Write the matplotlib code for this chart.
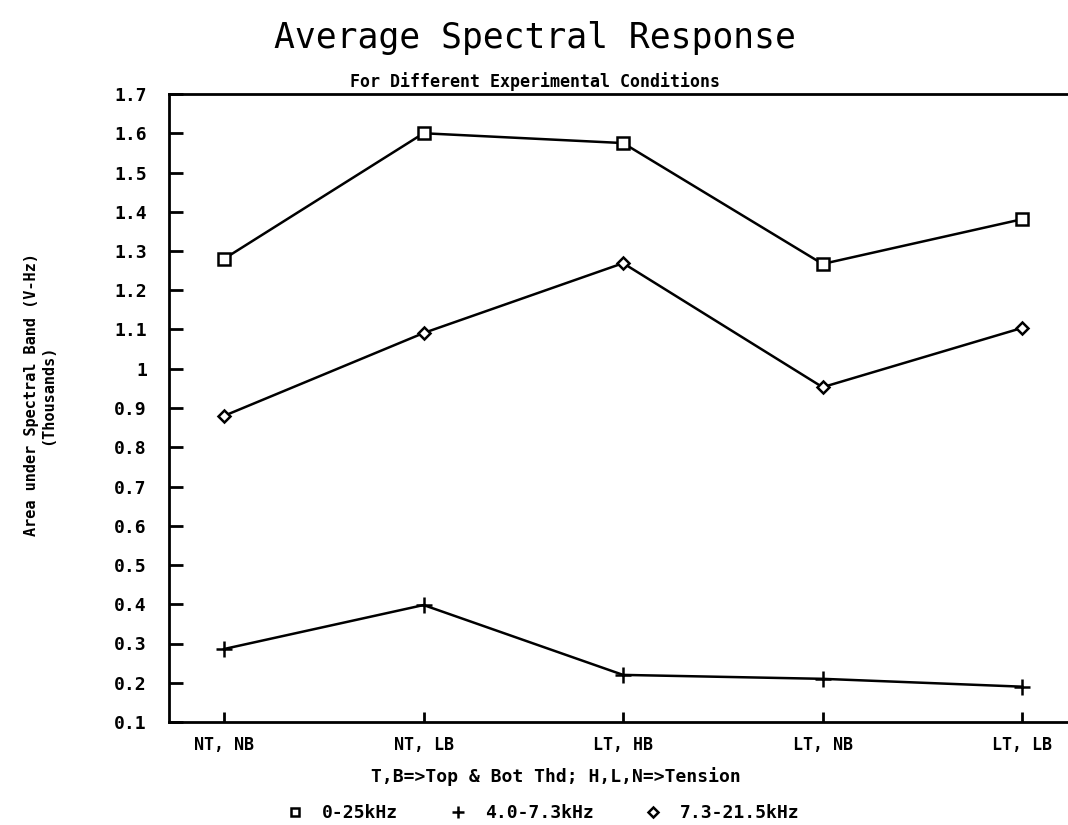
import matplotlib
matplotlib.use("Agg")
import matplotlib.pyplot as plt
from matplotlib.lines import Line2D

categories = ["NT, NB", "NT, LB", "LT, HB", "LT, NB", "LT, LB"]
series_names = ["0-25kHz", "4.0-7.3kHz", "7.3-21.5kHz"]
band_0_25 = [1.28, 1.60, 1.575, 1.267, 1.381]
band_4_73 = [0.286, 0.398, 0.22, 0.21, 0.19]
band_73_215 = [0.88, 1.091, 1.269, 0.953, 1.104]
yticks = [0.1, 0.2, 0.3, 0.4, 0.5, 0.6, 0.7, 0.8, 0.9, 1.0, 1.1, 1.2, 1.3, 1.4, 1.5, 1.6, 1.7]
ytick_labels = ["0.1", "0.2", "0.3", "0.4", "0.5", "0.6", "0.7", "0.8", "0.9", "1",
                "1.1", "1.2", "1.3", "1.4", "1.5", "1.6", "1.7"]

MONO = "DejaVu Sans Mono"
plt.rcParams["font.family"] = [MONO, "DejaVu Sans"]

W, H = 1068, 825
fig = plt.figure(figsize=(W / 100, H / 100), dpi=100)
ax = fig.add_axes([169 / W, 1 - 722 / H, 1 - 169 / W, (722 - 94) / H])

x = list(range(len(categories)))
styles = [
    dict(marker="s", markersize=8, markerfacecolor="white", markeredgewidth=1.8),
    dict(marker="+", markersize=11, markeredgewidth=1.8),
    dict(marker="D", markersize=6.5, markerfacecolor="white", markeredgewidth=1.8),
]
for vals, st in zip([band_0_25, band_4_73, band_73_215], styles):
    ax.plot(x, vals, color="black", linewidth=1.8, **st)

ax.set_xlim(-0.276, 4.23)
ax.set_ylim(0.1, 1.7)
ax.set_yticks(yticks)
ax.set_yticklabels(ytick_labels)
ax.set_xticks(x)
ax.set_xticklabels(categories)

for s in ["left", "bottom", "top"]:
    ax.spines[s].set_linewidth(2.0)
ax.spines["right"].set_visible(False)

ax.tick_params(axis="y", direction="in", length=10, width=2, pad=16, labelsize=13)
ax.tick_params(axis="x", direction="in", length=7, width=2, pad=10, labelsize=12)
for lbl in ax.get_yticklabels() + ax.get_xticklabels():
    lbl.set_fontweight("bold")

fig.text(535 / W, 1 - 38 / H, "Average Spectral Response", ha="center", va="center",
         fontsize=25, fontweight="normal")
fig.text(535 / W, 1 - 82 / H, "For Different Experimental Conditions", ha="center",
         va="center", fontsize=12, fontweight="bold")
fig.text(40 / W, 1 - 395 / H, "Area under Spectral Band (V-Hz)\n(Thousands)",
         ha="center", va="center", rotation=90, fontsize=11, fontweight="bold",
         multialignment="center", linespacing=1.1)
fig.text(556 / W, 1 - 777 / H, "T,B=>Top & Bot Thd; H,L,N=>Tension", ha="center",
         va="center", fontsize=13, fontweight="bold")

handles = [
    Line2D([], [], color="black", linestyle="none", **styles[0]),
    Line2D([], [], color="black", linestyle="none", **styles[1]),
    Line2D([], [], color="black", linestyle="none", **styles[2]),
]
leg = fig.legend(handles, series_names, loc="center", bbox_to_anchor=(543 / W, 1 - 813 / H),
                 ncol=3, frameon=False, fontsize=13, handlelength=1.0, columnspacing=2.8,
                 handletextpad=1.0, markerscale=0.8)
for t in leg.get_texts():
    t.set_fontweight("bold")

fig.savefig("out.png", dpi=100)
